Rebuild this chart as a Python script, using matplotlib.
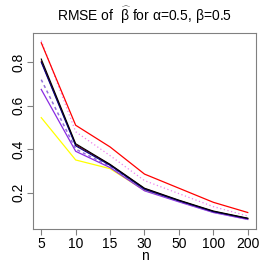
import matplotlib.pyplot as plt

plt.rcParams["font.family"] = ["Liberation Sans", "DejaVu Sans"]
plt.rcParams["mathtext.fontset"] = "custom"
plt.rcParams["mathtext.rm"] = "Liberation Sans"
plt.rcParams["mathtext.it"] = "Liberation Sans"

# sample sizes and RMSE values
n_labels = ["5", "10", "15", "30", "50", "100", "200"]
x = [1, 2, 3, 4, 5, 6, 7]

red_solid = [0.89, 0.51, 0.41, 0.285, 0.22, 0.155, 0.108]
violet_dot = [0.90, 0.48, 0.37, 0.255, 0.195, 0.135, 0.092]
black_solid = [0.815, 0.425, 0.33, 0.22, 0.165, 0.115, 0.082]
navy_solid = [0.80, 0.415, 0.325, 0.215, 0.162, 0.112, 0.080]
brown_solid = [0.805, 0.42, 0.328, 0.218, 0.163, 0.113, 0.080]
purple_dot = [0.72, 0.40, 0.32, 0.212, 0.160, 0.110, 0.078]
blueviolet_solid = [0.675, 0.39, 0.315, 0.208, 0.157, 0.108, 0.076]
yellow_solid = [0.545, 0.35, 0.31, 0.21, 0.162, 0.112, 0.080]

fig = plt.figure(figsize=(2.73, 2.73), dpi=100)
ax = fig.add_axes([33 / 273, 1 - 229 / 273, (256 - 33) / 273, (229 - 33) / 273])

ax.plot(x, yellow_solid, color="yellow", lw=0.9)
ax.plot(x, blueviolet_solid, color="blueviolet", lw=0.9)
ax.plot(x, purple_dot, color="mediumpurple", lw=1.1, ls=(0, (2, 2)))
ax.plot(x, brown_solid, color="darkred", lw=0.8)
ax.plot(x, navy_solid, color="navy", lw=0.8)
ax.plot(x, black_solid, color="black", lw=0.8)
ax.plot(x, violet_dot, color="violet", lw=0.9, ls=(0, (1, 2)))
ax.plot(x, red_solid, color="red", lw=0.9)

ax.set_xlim(0.76, 7.24)
ax.set_ylim(0.032, 0.935)
ax.set_xticks(x)
ax.set_xticklabels(n_labels)
ax.set_yticks([0.2, 0.4, 0.6, 0.8])
ax.set_yticklabels(["0.2", "0.4", "0.6", "0.8"], rotation=90, va="center")
ax.tick_params(labelsize=10, length=4, color="gray", pad=1.5)

for s in ax.spines.values():
    s.set_color("gray")

ax.set_xlabel("n", fontsize=10, labelpad=-1)
ax.set_title(r"RMSE of  $\widehat{\beta}$ for $\alpha$=0.5, $\beta$=0.5", fontsize=10, pad=9)

fig.savefig("out.png", dpi=100)
